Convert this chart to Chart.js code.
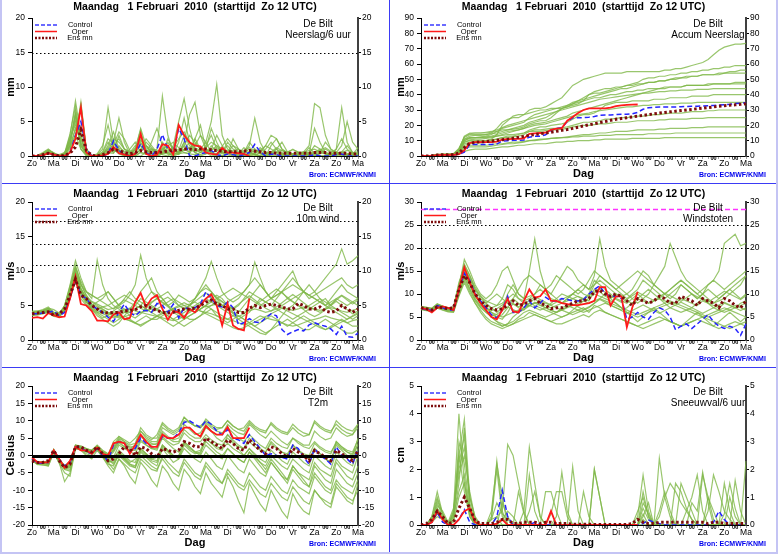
<!DOCTYPE html>
<html>
<head>
<meta charset="utf-8">
<script src="https://cdn.jsdelivr.net/npm/chart.js@4.4.0/dist/chart.umd.min.js"></script>
<style>
body { margin: 0; background: #fff; }
#wrap { position: relative; width: 778px; height: 554px; overflow: hidden; background: #fff; }
canvas { position: absolute; }
.sep { position: absolute; background: #3b3bf5; }
.frame { position: absolute; background: #c4c4f4; }
</style>
</head>
<body>
<div id="wrap">
  <canvas id="rain"  width="389" height="183" style="left:0;top:0"></canvas>
  <canvas id="accum" width="388" height="183" style="left:390px;top:0"></canvas>
  <canvas id="wind"  width="389" height="183" style="left:0;top:184px"></canvas>
  <canvas id="gust"  width="388" height="183" style="left:390px;top:184px"></canvas>
  <canvas id="temp"  width="389" height="186" style="left:0;top:368px"></canvas>
  <canvas id="snow"  width="388" height="186" style="left:390px;top:368px"></canvas>
  <div class="sep" style="left:0;top:183px;width:778px;height:1px"></div>
  <div class="sep" style="left:0;top:367px;width:778px;height:1px"></div>
  <div class="sep" style="left:389px;top:0;width:1px;height:554px"></div>
  <div class="frame" style="left:0;top:0;width:2px;height:554px"></div>
  <div class="frame" style="left:776px;top:0;width:2px;height:554px"></div>
  <div class="frame" style="left:0;top:552px;width:778px;height:2px"></div>
</div>
<script>
// x-as: elke 6 uur vanaf Zo 12 UTC, dagnamen op 12 UTC, "00" op 00 UTC
const dayLabels = ['Zo','Ma','Di','Wo','Do','Vr','Za','Zo','Ma','Di','Wo','Do','Vr','Za','Zo','Ma'];
const titleText = 'Maandag   1 Februari  2010  (starttijd  Zo 12 UTC)';
const legendNames = ['Control', 'Oper', 'Ens mn'];

// Neerslag/6 uur (mm)
const rainControl = [0,0,.1,.4, .2,0,0,.5, 3,5,1,0, 0,0,.3,2.2, .8,.2,0,.3, 1.8,.5,0,1, 3.1,1,.5,4, 2.5,0,0,.3, .5,.8,.2,0, .3,.2,0,.2, .5,1.7,.6,0, .3,.2,0,0, 0,0,0,0, .2,0,0,0, .2,.3,0,0, 0];
const rainOper = [0,0,.1,.4, .2,0,0,.5, 2.5,7,.5,0, 0,.1,.3,1.3, .4,.2,0,.3, 3.2,.3,0,.2, 1.7,1.5,.2,4.5, 3,2,1.5,1.4, .5,.3,.2,1.2, .5,.5,.4,.3, 0];
const rainMean = [0,0,.2,.4, .2,0,.1,.4, 1.3,3.8,.8,.1, 0,.2,.5,1, .8,.5,.3,.5, .8,.6,.5,.5, .6,.7,.8,.9, 1,1,.9,1, 1,.9,.8,.7, .6,.6,.6,.7, .8,.7,.6,.5, .5,.4,.4,.4, .4,.4,.4,.4, .5,.5,.5,.4, .4,.4,.4,.3, .3];
const rainMembers = [
  [0,0,.2,.6, .3,0,0,1.5, 6.5,2,.3,0, 0,.2,1.5,3.5, 1,.2,0,.5, 2.5,1,0,.3, 1.2,.5,0,.8, 3,1.5,.5,0, .3,1.5,.6,0, 0,.2,.5,0, .3,1,.4,0, 0,0,.2,.5, 0,0,.3,1.2, .4,0,0,.2, .6,.3,0,0, .2],
  [0,.1,.5,1, .4,0,.2,3, 8,3,.5,0, .2,1,7,2, .5,0,.3,1, 4,1.5,.5,0, .8,2,1,.5, 1,.5,2.5,1, .5,0,.2,.6, 1.5,.5,0,0, 0,.3,1.2,.5, 0,0,0,.3, 0,.2,.6,1.5, 7.6,7,3,1, .5,0,0,.4, 0],
  [0,0,.3,.5, .2,0,.5,1.5, 3,7.5,1,0, .1,.3,1,2, 5.5,2,.3,0, .6,1.5,.5,1, 8.7,3,.5,.2, 1,2,1,.5, 1.5,3,1,.3, .5,1.5,1,.3, .1,.2,0,0, 1.5,2.5,1,.3, 0,0,0,0, .5,1,.3,0, 0,.6,1.5,.5, .2],
  [0,0,.1,.4, .3,.1,.3,2.5, 5,1.5,.2,0, 0,.5,2,1, .8,.3,0,1, 3.8,.5,0,0, .3,.5,1.5,5, 8.3,4,1,.5, .3,1,3,1.5, .5,0,0,.5, 1.5,5.5,2,.5, .5,1,.5,0, 0,0,0,.2, .3,.5,.3,0, .5,1.5,5,2, 1],
  [0,0,.2,.8, .5,0,0,1, 4,2.5,.5,0, 0,0,.5,1.5, 2.5,1,.5,.2, 1,2.5,1.5,.5, .2,0,.5,1, .5,.3,1.5,3, 2,5,10.4,3, 1,.5,.3,0, .5,.3,0,1, 2,1,0,0, .2,.5,.3,0, 0,.5,2,1, .3,0,0,0, .5],
  [0,0,.3,.7, .2,0,.2,1.5, 4,7,1,0, 0,.2,.5,.4, 1.5,.5,0,0, .5,.3,2,4, 1.5,.5,.3,2, 5.5,2,.5,1, 2,.5,0,0, .3,2.5,1,.3, 0,0,.5,1.5, 3,2.5,1,.5, 0,0,0,.3, 1.5,1,.4,0, 1,7,2,.5, 0],
  [0,0,.1,.3, .3,.2,.5,2, 6,1,.2,0, .3,1.5,4.5,1, .3,0,1,2, .5,.3,0,.5, 1,.3,0,.3, 2,6,7.8,3, 1,.5,.3,.5, 2,1,.5,0, .5,.2,0,0, .3,1,2,.6, .3,0,0,0, 0,.3,1,.5, 0,0,.3,0, 0],
  [0,0,.4,.9, .4,0,0,.5, 3,1,0,0, 0,0,.3,.8, .5,.2,.5,1.5, 2,.8,.5,0, .3,2.5,1,.3, .5,.3,.2,.5, 1,4,2,.5, .5,0,.2,.5, 1,.5,.3,.2, 0,0,0,.5, 1,.5,.3,.2, 0,0,0,.4, 1,2.5,1,.3, 0],
  [0,0,.2,.5, .2,0,.3,1.2, 2.5,7.8,1,0, 0,.3,1,.5, 3,1,.5,0, 0,.5,1,.2, 2,1,.5,.3, 1.5,.5,2.5,4.5, 1,.5,.2,0, .5,.5,0,.5, 2,1,.4,0, .5,.3,.2,0, 0,.3,.5,.5, .3,0,0,0, .3,.5,.2,.2, 1.2],
  [0,0,.2,.4, .3,0,0,1.8, 5.5,1.5,.3,0, 0,.2,.6,1.2, .8,.3,.2,.5, 1.5,.5,.2,.3, .5,.3,.2,.5, 2,1,.5,.2, .5,.8,1.5,.5, .3,.2,.3,1.2, .5,.2,0,0, .2,.5,.3,.2, 0,0,.2,.4, 4,2,.5,.2, 0,0,.2,.3, .2],
  [0,0,.3,.8, .4,0,.1,2.2, 6,2.5,.4,0, 0,.4,1.2,2.5, 2,1,.6,.8, 1.8,1.2,.8,.6, 1,1.5,2,1.2, .8,1.2,1.8,1, .6,.9,1.2,.8, .5,.8,1,.6, .4,.7,.9,.5, .3,.6,.8,.5, .3,.5,.6,.4, .6,.8,.5,.3, .4,.6,.4,.3, .4],
  [0,0,.2,.5, .3,0,.2,2.6, 4.5,4,.6,0, .1,.6,2.5,1.8, 1.2,.7,.4,1.2, 2.2,1.5,1,.8, .5,.8,1.2,2.5, 3.5,2,1.2,.8, 1.2,2,1.5,1, .8,.6,.4,.8, 1.2,.8,.5,.3, .6,1.2,.8,.4, .2,.3,.5,.8, 1,.6,.3,.2, .3,.5,.8,.5, .3],
  [0,0,.3,.6, .2,0,.4,3.2, 7.2,1.8,.2,0, 0,.3,.9,1.6, 3.5,2.5,.8,.3, .9,2,1.2,.4, .6,1.2,.8,.6, 1.5,3,2,1, .8,.5,.7,1.4, 2.5,1.5,.6,.3, .2,.4,.8,1.5, 1,.5,.3,.6, .9,.6,.4,.2, .3,.8,1.2,.7, .5,.3,.2,.5, .6]
];

// Accum neerslag (mm)
const accumControl = [0,0,.1,.5, .7,.7,.7,1.2, 2.5,7.5,7.5,7.5, 7.5,7.5,7.8,9.8, 10,10.2,10.2,10.5, 12.3,12.8,12.8,13.8, 16.9,17.9,18.4,22.4, 24.9,24.9,25,25.3, 25.8,26.6,26.8,26.8, 27.1,27.3,27.3,27.5, 28.5,30.5,31.5,31.8, 32,32,32,32, 32.2,32.3,32.4,32.5, 32.6,32.8,33,33.2, 33.5,33.8,34.2,34.5, 34.8];
const accumOper = [0,0,.1,.5, .7,.7,.7,1.2, 3.7,8.5,9,9, 9,9.1,9.4,10.7, 11,11.2,11.2,11.5, 14.5,14.8,15,15.2, 17,17.8,18.2,23, 25.5,28,30,31, 31,31,31,31.5, 32.5,33,33.3,33.5, 33.6];
const accumMean = [0,0,.2,.6, .8,.8,.9,1.9, 5.5,8.3,9,9.2, 9.4,9.8,10.2,10.6, 11,11.6,12.2,12.8, 13.5,14,14.5,15, 15.5,16.1,16.7,17.3, 18,18.8,19.6,20.3, 21,21.8,22.5,23.3, 24,24.5,25,25.5, 26,26.5,27,27.5, 28,28.4,28.8,29.2, 29.6,30,30.4,30.8, 31.2,31.6,32,32.4, 32.8,33.1,33.4,33.7, 34];
const accumMembers = [
  [0,0,.2,.8, 1,1,1.5,5, 12,14,14,14, 14,15,18,22, 24,25,25,27, 30,31,31,32, 34,36,38,42, 46,48,50,51, 52,53,54,54, 54,54,55,55, 55,55,55,55, 55,56,56,57, 57,58,59,60, 61,63,66,69, 71,72,73,73, 73.5],
  [0,0,.3,.6, .8,1,1,3, 10,12,12,12.5, 13,14,16,18, 19,20,21,22, 25,27,28,29, 30,31,31,32, 33,34,36,40, 42,43,44,44, 45,45,46,47, 48,50,51,51, 52,52,53,53, 54,54,55,55, 56,56,57,57, 58,58,59,59, 59],
  [0,0,.2,.5, .7,.7,1,2.5, 8,9,9.5,9.5, 10,11,14,20, 23,26,27,27, 28,29,30,30, 31,31,32,33, 34,36,38,40, 41,41,42,43, 44,45,46,46, 47,47,48,48, 49,49,50,51, 51,52,52,52, 53,53,53,53, 54,54,54,54, 54],
  [0,0,.3,1, 1.2,1.2,1.5,4, 13,15,15,15, 15,15.5,16,17, 17,17.5,18,19, 21,22,23,23, 25,28,31,32, 34,35,36,37, 38,38,39,40, 40,41,42,42, 43,43,44,44, 44,45,45,45, 45,46,46,46, 46,46,47,47, 47,47,47,47, 47],
  [0,0,.2,.4, .5,.5,.6,2, 7,8,8.5,8.5, 9,10,11,12, 13,13,14,15, 17,18,19,19, 20,20.5,21,22, 24,26,27,27, 28,30,33,34, 35,35,35,36, 36,36,36,37, 37,37,38,38, 38,38,39,39, 39,39,40,40, 40,40,40,40, 40],
  [0,0,.4,1, 1,1,1.5,3, 9,10,10,10, 10,10.5,11,12, 12,12.5,13,14, 16,17,17,17.5, 18,18,18.5,19, 20,21,22,22, 22.5,23,24,24, 24.5,25,25,25.5, 26,26,26.5,27, 27,27.5,28,28, 28,28.5,29,29, 29,29.5,29.5,30, 30,30,30,30, 30],
  [0,0,.2,.6, .8,.8,1,3.5, 11,12,12,12, 12,12.5,13,13.5, 14,14,14.5,15, 16,16,16,16.5, 17,17,17.5,18, 19,19.5,20,20, 20.5,21,21,21.5, 22,22,22,22.5, 23,23,23,23, 23.5,23.5,24,24, 24,24,24.5,24.5, 24.5,25,25,25, 25,25,25,25, 25],
  [0,0,.1,.3, .4,.4,.5,1.5, 5,6,6,6, 6,6.5,7,7.5, 8,8,8.5,9, 10,10,10.5,11, 11.5,12,12,12.5, 13,13.5,14,14, 14.5,15,15,15.5, 16,16,16,16.5, 17,17,17,17, 17.5,17.5,18,18, 18,18,18.5,18.5, 18.5,19,19,19, 19,19,19,19, 19],
  [0,0,.2,.5, .6,.6,.8,2, 6,7,7,7, 7,7.5,8,8, 8.5,9,9,9.5, 10,10.5,11,11, 11.5,11.5,12,12, 12.5,12.5,13,13, 13,13.5,13.5,13.5, 14,14,14,14, 14,14,14.5,14.5, 14.5,14.5,14.5,15, 15,15,15,15, 15,15,15,15, 15,15,15,15, 15],
  [0,0,.1,.2, .3,.3,.4,1, 3,4,4.5,4.5, 4.5,5,5.5,6, 6,6.5,7,7, 7.5,8,8,8, 8.5,9,9,9.5, 9.5,10,10,10, 10.5,10.5,11,11, 11,11,11,11.5, 11.5,11.5,11.5,11.5, 11.5,12,12,12, 12,12,12,12, 12,12,12,12, 12,12,12,12, 12],
  [0,0,.3,.7, .9,.9,1.2,4, 11,13,13.5,13.5, 14,14.5,15,16, 17,18,19,20, 22,23,24,25, 27,29,31,33, 35,36,37,38, 39,40,41,42, 43,44,44,45, 46,47,48,48, 49,49,50,50, 51,51,52,52, 53,53,53,54, 54,55,55,56, 56],
  [0,0,.1,.4, .6,.6,.8,2.5, 9,10.5,11,11, 11.5,12,13,14, 15,16,17,18, 20,21,21.5,22, 23,24,25,26, 28,29,30,31, 32,33,34,35, 36,37,38,39, 40,41,42,43, 44,44,45,45, 45,46,46,46, 46,47,47,47, 47,47,48,48, 48],
  [0,0,.2,.6, .8,.8,1,3, 10,11.5,12,12, 12.5,13,14,15, 16,16.5,17,18, 19,20,20.5,21, 22,23,24,25, 26,27,27.5,28, 29,29.5,30,30.5, 31,31.5,32,32, 32.5,33,33,33.5, 33.5,34,34,34, 34.5,34.5,34.5,35, 35,35,35,35, 35,35,35,35, 35],
  [0,0,.3,.8, 1,1,1.3,4.5, 12.5,14.5,15,15, 15.5,16,17,18.5, 20,21,22,23, 24,25,26,27, 28,29,30,31, 32,33,34,35, 36,37,37.5,38, 38.5,39,39.5,40, 40.5,41,41,41.5, 42,42,42.5,42.5, 43,43,43,43.5, 43.5,43.5,44,44, 44,44,44,44, 44]
];

// 10m wind (m/s)
const windControl = [3.8,3.8,3.9,4, 4.2,3.5,4,6, 8.8,6.5,6,5, 4.5,4,3.3,2.7, 4,5.2,4,3.5, 4.2,4.3,4,5.3, 5,4,5.2,3.2, 4.7,4.5,4.7,5.2, 7,6,5,4.8, 5.5,4.7,2.2,2.5, 3.1,2.6,2.5,3.2, 3.8,3.5,1.5,0.8, 1.2,1.5,1.3,2.2, 2.5,2.2,2,1.6, 0.8,2,0.5,0.4, 1];
const windOper = [3.2,3.3,3.1,3.9, 3.6,3.3,3.4,6, 9.2,5.2,5,4.2, 2.8,2.8,2.7,3.7, 4,3,3.2,5.5, 6.8,4.8,6,6.5, 4.5,2.9,4.2,4, 3.2,4.5,4,5, 6,6.6,5,2.1, 5.3,2.1,1.6,1.4, 6];
const windMean = [3.8,3.9,4,4.1, 3.6,3.8,4.5,6.5, 8.8,6.5,6,5, 4.5,4,3.9,4, 4,4.2,4.3,4.4, 4.8,5,4.6,4.3, 4,3.9,4,4.3, 4.5,4.5,4.6,5, 5.5,5.8,5.2,5, 4.5,4.5,4,4, 4.6,5,4.7,5, 5.2,5,4.8,4.5, 4.5,5.3,5,4.5, 4.5,4.8,4.2,4, 4.2,5,4.5,4, 4.5];
const windMembers = [
  [4,4,4.2,4.5, 3.8,3.5,4.5,7, 10.5,8,6.5,5.5, 5,4.5,4,3.5, 3.5,4,4.5,5, 6,5.5,5,4.5, 4,3.5,3,3.5, 4,4.5,5,5.5, 6,5.5,5,4.5, 4,3.5,3,3.5, 4,5,6,5.5, 5,4.5,4,3.5, 3,3.5,4,4.5, 5,5.5,6,5, 4.5,4,3.5,3, 3.5],
  [3.5,3.8,4,4.3, 3.5,3.4,5,8, 11.5,9,7,6, 11.6,8,6,5, 4.5,4,4,4.5, 5,6,7,6.5, 6,5,4.5,4, 4.5,5,6,7, 8,7,6,5, 5.5,6,6.5,7, 8,9,8,7, 6,5.5,5,5.5, 6,6.5,7,6.5, 6,5.5,5,6, 7,8,7,6.5, 6],
  [4,4,3.8,4.2, 3.6,3.6,4.2,6.5, 9.5,7.5,6,5, 4,3.5,3,2.5, 3,3.5,3,2.5, 3,3.5,3,3, 3.5,4,4.5,4, 3.5,3,3,3.5, 4,4.5,3.5,3, 2.5,3,3.5,3, 2.5,2,2.5,3, 3.5,3,2.5,2, 2.5,3,3.5,3, 2.5,2,1.5,2, 2.5,3,2.5,2, 2],
  [3.8,3.9,4.1,4.4, 3.7,3.5,4.8,7.5, 10,7,5.5,5, 5.5,6,7,6, 5,5.5,6.5,8, 12.3,9,7,6, 5.5,5,5.5,6.5, 6,5.5,6,7, 7.5,7,6,5.5, 5,4.5,5,6, 7,6.5,6,5.5, 5,6,7,6, 5.5,5,4.5,5, 5.5,6,5.5,5, 6,6.5,6,5.5, 5],
  [3.6,3.7,3.9,4, 3.4,3.3,4.3,6, 8.5,6,5,4.5, 4,3.8,3.5,3.2, 3.5,3,2.8,2.5, 2,2.5,3,3.5, 4,3.5,3,2.5, 2,2.5,3,3.5, 4.5,5,5.5,5, 4.5,4,3.5,3, 2.5,2,1.5,1, 1.5,2,2.5,3, 2.5,2,1.5,1.5, 2,2.5,3,2.5, 2,1.5,1,1, 1.5],
  [4.2,4.2,4.4,4.8, 4,3.8,5,7.5, 10.5,8.5,7,6.5, 6,5.5,5,4.5, 5,6,7,6, 5.5,5,5.5,6, 6.5,7,6,5, 4.5,5,6,7.5, 9,11.4,9,7, 6,5.5,6,7, 8,11.3,9,7, 6,6.5,7,8, 9,8,7,6.5, 7,8,9,10, 11,13.2,11,11.5, 12.2],
  [3.8,3.8,4,4.1, 3.6,3.7,4.4,6.8, 9,6.5,5.2,4.6, 4.2,4,3.8,4, 4.2,4.4,4.6,4.2, 4,4.2,4.5,4.3, 4,4.2,4.5,4.8, 5,5.2,5.5,5, 4.8,5,5.2,5, 4.8,4.5,4.2,4, 4.2,4.5,4.3,4, 4.2,4.5,4.8,4.5, 4.3,4.5,4.8,4.6, 4.5,4.3,4.5,4.7, 4.5,4.2,4,4.3, 4.5],
  [3.7,3.8,4,4.3, 3.8,3.6,4.6,7.2, 9.8,7.5,6,4.5, 3.5,3,2.5,2, 2.5,3.5,4.5,5.5, 7,8,9,7, 6,5,4,3.5, 3,3.5,4,4.5, 5,6,6.5,6, 5,4,3,2.5, 2,1.5,1,0.8, 1.5,2.5,3.5,4.5, 5,6,7,8, 7,6,5,4.5, 4,3.5,3,3.5, 4],
  [4,4.1,4.3,4.6, 3.9,3.7,4.7,7, 10,8,7,6.5, 6,6.5,7,6, 5,4.5,4,4.5, 5,4.5,4,4.5, 5,5.5,6,5.5, 5,4.5,4,4.5, 5,4.5,4,3.5, 3,3.5,4,5, 6,7,8,7, 6,7,8,9, 10,8,7,6, 6.5,7,7.5,8, 8.5,9,8,7.5, 8],
  [3.9,4,4.1,4.2, 3.5,3.5,4.5,6.5, 9.2,7,5.8,5, 4.5,4.2,3.8,3.5, 3.2,3.4,3.6,3.8, 4,3.8,3.6,3.4, 3.2,3,2.8,3, 3.5,4,4.5,4.2, 4,3.8,3.5,3.2, 3,2.8,2.5,2.2, 2.5,3,3.5,3.2, 3,2.8,2.5,2.2, 2,2.2,2.5,2.8, 3,3.2,3.5,3.2, 3,2.8,2.5,2.8, 3],
  [3.6,3.6,3.8,4, 3.5,3.4,4.2,6.2, 8.8,6.8,5.5,4.8, 4.5,4.8,5,5.5, 6,6.5,6,5.5, 5,4.5,4,3.5, 3,2.5,2,2.5, 3,3.5,4,4.5, 5,5.5,6,6.5, 7,7.5,7,6.5, 6,5.5,5,5.5, 6,6.5,7,7.5, 8,7.5,7,6.5, 6,5.5,5,5.5, 6,5.5,5,5.5, 6],
  [4.1,4.2,4.3,4.5, 4,3.9,4.9,7.8, 10.8,8.2,6.4,5.2, 4.8,4.4,4,3.8, 3.6,3.2,2.8,2.4, 2.2,2.6,3,3.4, 3.8,4.2,4.6,5, 5.4,5,4.6,4.2, 3.8,3.4,3,2.6, 2.2,1.8,1.5,1.8, 2.2,2.6,3,3.4, 3.8,4.2,4.6,4.2, 3.8,3.4,3,2.6, 2.2,1.8,1.5,1.8, 2.2,2.6,3,3.4, 3.8],
  [3.9,4,4.2,4.6, 4.4,3.9,4.6,7.1, 9.6,7.2,6.2,5.6, 5.2,4.8,4.4,4.6, 5.2,5.8,5.4,5, 4.6,4.2,4.6,5.2, 5.8,6.2,5.6,5, 4.6,4.2,4.6,5.2, 6,6.8,6.2,5.6, 5,4.6,5.2,5.8, 6.4,5.8,5.2,4.6, 4.2,4.8,5.4,6, 6.6,6,5.4,4.8, 4.4,4,4.6,5.2, 5.8,6.4,5.8,5.2, 5.8],
  [3.7,3.7,3.9,4.2, 3.9,3.6,4.4,6.6, 9.4,7.4,5.6,4.4, 3.8,3.2,3.6,4.2, 4.8,4.2,3.6,3.2, 3.8,4.6,5.4,6, 5.4,4.8,4.2,3.8, 4.4,5,5.6,6.2, 6.8,6.2,5.6,5, 4.4,3.8,3.4,3.8, 4.4,5,5.6,6.2, 6.8,7.4,6.8,6.2, 5.6,5,4.4,3.8, 3.4,3.8,4.4,5, 5.6,5,4.4,3.8, 4.2]
];

// Windstoten (m/s)
const gustControl = [7,6.5,6.5,7.5, 7,6.5,6.5,11, 14.5,13,10,8.5, 7,5.5,4.8,6.5, 9.5,6,6,7, 8.5,7,8,9.3, 8.5,8.5,9,8.8, 8.5,8.5,8.8,10, 11,11.8,10,9.5, 9.5,9,4.5,5, 6,5,4.5,6, 7,6.5,5,2.2, 3,3.5,2.5,3.5, 4.5,5.5,4,3, 2.5,3,2.5,1, 3.5];
const gustOper = [7,6.7,6,7, 7.3,7,6.5,11, 15.8,12.5,9.8,8, 6.5,5,4.5,6.5, 9,6.2,6,8.5, 11,9.2,9.5,11, 8.5,8.5,8,7.8, 7.6,7.6,7.8,8, 8.5,11.5,11.5,7.5, 9.5,9.5,2.8,7, 10.5];
const gustMean = [7,6.8,6.5,7.2, 7,6.8,7,11, 14,12.5,10,8.5, 7.5,6.8,6.5,6.8, 7.5,8.5,7.5,7.8, 8.5,9,8,7.5, 6.8,7,7,7.5, 8,8.5,8.5,9, 10.5,10.8,10,9.5, 10,9.5,8.5,7.5, 9,8.5,8,8.5, 9.5,9,8,8, 9.5,9,8.5,7.5, 9,8.5,8,7, 9,8.5,7.5,7, 8.5];
const gustMembers = [
  [7,6.8,6.5,7.5, 7,6.5,6.5,11, 15,13,10,8, 7,6,5,4.5, 6,8,7,6.5, 8,9,8,7.5, 7,7.5,8,8.5, 9,9.5,9,8.5, 11,10.5,9.5,9, 10,9.5,8.5,8, 9,8.5,8,8.5, 9,8.5,8,8, 9,8.5,8,7.5, 8.5,8,7.5,7, 8,7.5,7,7.5, 8],
  [7.2,7,6.8,7.8, 7.3,7,7,12, 16.5,14,11,9, 8,7,6,7, 10,12,10,9, 15,22,15,11, 10,9,8,9, 10,11,12,11, 12,14,13,12, 11,10,9,10, 11,13,12,11, 10,9,10,11, 12,11,10,9, 10,11,10,9, 10,11,10,9, 10],
  [6.8,6.6,6.3,7.2, 6.8,6.3,6.2,10, 13.5,11,8.5,7, 6,5,4,3.5, 3,3.5,4.5,5, 6,5.5,5,4.5, 4,4.5,5,5.5, 6,6.5,7,6, 7.5,7,6,5.5, 5,4.5,4,3.5, 3,3.5,4,4.5, 5,4.5,4,3.5, 3,3.5,4,4.5, 5,4.5,4,3.5, 3,2.5,3,3.5, 4],
  [7.1,6.9,6.7,7.6, 7.1,6.8,6.9,11.5, 17.5,15,12,10, 9,10,12,15, 16,13,10,9, 9.5,10,11,10, 9,8.5,8,9, 10,11,10,9.5, 12,13,12,11, 10,9.5,10,11, 13,15,14,12, 11,10,9,10, 12,11,10,9, 10,12,13,15, 21,22,23,20.5, 21],
  [6.9,6.7,6.4,7.3, 6.9,6.5,6.6,10.5, 14,12,9,7.5, 6.5,5.5,5,5.5, 7,9,8,7, 8,7.5,7,6.5, 6,5.5,5,5.5, 6.5,7.5,8.5,9, 10,9.5,9,8.5, 8,7,6,5.5, 5,5.5,6,6.5, 7,7.5,8,7.5, 7,6.5,6,5.5, 5,5.5,6,6.5, 7,6.5,6,5.5, 5],
  [7,6.8,6.6,7.4, 7,6.6,6.7,11, 15.5,13.5,11,9.5, 8.5,8,7.5,8, 9,10,9,8.5, 9,10,12,11, 10,12,14,16, 15,13,12,11, 14,22,16,13, 12,11,10,9, 8,9,10,12, 14,16,21,18, 15,13,12,11, 10,9,8,9, 10,11,12,13, 14],
  [7.3,7.1,6.9,7.9, 7.4,7,7.2,12.5, 16,13,10,8, 6.5,5,4,3, 3.5,5,6,7, 7.5,8,8.5,8, 7.5,7,6.5,6, 5.5,6,6.5,7, 8,9,10,9, 8,7,6,5, 4,5,6,7, 6,5,4,3.5, 3,4,5,6, 5,4,3,4, 5,6,5,4, 5],
  [6.7,6.5,6.2,7, 6.6,6.2,6.1,9.8, 13,10.5,8,6.5, 5,4,3.5,3, 3.5,4,5,6, 6.5,6,5.5,5, 5.5,6,7,7.5, 7,6.5,6,6.5, 7,7.5,8,7.5, 7,6.5,7,8, 9,10,11,10, 9,8,7,6.5, 6,6.5,7,8, 9,8,7,6.5, 6,6.5,7,8, 8.5],
  [7,6.9,6.7,7.5, 7.2,6.9,6.8,11.2, 15,12.5,10,8.5, 7.5,7,7.5,9, 12,11,9,8, 7.5,7,6.5,7, 8,9,10,9.5, 9,8.5,9,10, 13,12,11,10, 9,8.5,8,9, 10,9,8,8.5, 9,10,11,12, 13,12,11,10, 9,8.5,8,8.5, 9,10,11,12, 14],
  [7.1,7,6.8,7.7, 7.2,6.7,6.8,11.3, 14.5,12,9.5,8, 7,6,5.5,5, 5.5,6,6.5,7, 7.5,8,7.5,7, 6.5,6,6.5,7, 7.5,8,8.5,8, 8.5,9,8.5,8, 7.5,7,6.5,6, 5.5,6,6.5,7, 7.5,8,8.5,8, 7.5,7,6.5,6, 5.5,5,5.5,6, 6.5,7,7.5,7, 6.5],
  [6.6,6.4,6.2,6.9, 6.5,6.1,6,9.5, 12.5,10,8,6, 4.5,3.5,3,2.5, 3,3.5,4,4.5, 5,5.5,5,4.5, 4,3.5,3.5,4, 4.5,5,5.5,5, 6,6.5,6,5.5, 5,4.5,4,3.5, 3,2.5,3,3.5, 4,4.5,4,3.5, 3,3.5,4,4.5, 4,3.5,3,2.5, 3,3.5,4,3.5, 3],
  [7.2,7.1,6.9,7.7, 7.3,6.9,7,11.8, 16.2,14,11.5,9.5, 8,9,10,9, 8,9,11,13, 14,13,12,11, 12,14,13,12, 11,10,11,13, 15,14,13,12, 11,12,13,14, 15,14,13,12, 11,10,11,12, 13,12,11,10, 11,12,13,12, 11,12,13,14, 15],
  [7,6.8,6.5,7.4, 7.1,6.7,6.8,10.8, 14.8,12.2,9.6,8, 7,6.4,6.8,7.6, 8.4,7.8,7.2,7.8, 8.6,9.4,8.8,8.2, 7.6,8.2,8.8,9.4, 10,9.4,8.8,9.6, 10.4,11.2,10.4,9.6, 8.8,8.2,8.8,9.6, 10.4,9.8,9.2,8.6, 9.4,10.2,9.6,9, 8.4,9.2,10,9.4, 8.8,8.2,9,9.8, 10.6,10,9.4,8.8, 9.6],
  [6.9,6.7,6.4,7.2, 6.8,6.4,6.4,10.2, 13.8,11.2,8.8,7.2, 6,5.2,5.6,6.4, 7.2,6.6,6,6.6, 7.4,8.2,7.6,7, 6.4,6,6.6,7.2, 7.8,7.2,6.6,7.2, 8,8.8,8.2,7.6, 7,6.4,5.8,6.4, 7,7.6,7,6.4, 5.8,6.4,7,7.6, 8.2,7.6,7,6.4, 5.8,6.4,7,7.6, 8.2,7.6,7,6.4, 7]
];

// T2m (Celsius)
const tempControl = [-1,-2.2,-2.2,-2, 1.5,-1,-3,-2, 2.5,2.5,1,0.5, 2,0,-1.5,3, 4,3.5,1,2, 5,3.5,2.5,2.5, 5.5,5,5,6.5, 9.5,10,9,8, 10,9,7,6, 7.5,5,4.5,3.5, 6,4,2,0, 0.5,0,-0.5,-1, 3,2,-0.5,-2.5, 2,0,-1,-2.5, 2.5,0,-1,-2.5, 2];
const tempOper = [-0.5,-2,-2,-2, 1.5,-1,-3.5,-1.5, 2.5,1.5,1.5,0.5, 2.3,0.5,0,3.5, 4,3.5,0.5,3, 6,4,2.5,2.5, 6,5,5,6, 8,8,6.5,5.5, 8.5,7,6,6, 8.2,5,5,5, 8];
const tempMean = [-1.5,-2,-2,-1.5, 1.5,-1.5,-3.5,-2.5, 2.5,2.5,1.5,1, 2.5,0.5,-1.5,-1, 0.5,2.5,2,0, 2.5,2,0.5,-0.5, 2,1.5,1,1.5, 4,3.5,2.5,2.5, 5,4,3,2, 4.5,3.5,2,1.5, 4.5,3,1.5,0.5, 2.5,2,0.5,-0.5, 2,1,0,-1.5, 1.5,0.5,-0.5,-1.5, 1.5,0.5,-0.5,-1.5, 1.5];
const tempMembers = [
  [-1,-2,-2,-2, 1.5,-1,-3,-1.5, 3,2.5,1.5,1, 2.5,1,0,1.5, 5,4,2,3, 7,5,4,4, 8,7,6,7, 10,9.5,8.5,8, 10.5,9,8,8, 10,8.5,7.5,7, 9.5,8,7,6.5, 9.5,8,7,6.5, 9,7.5,6.5,6, 9.5,8,7,6.5, 10,8.5,7.5,7, 9],
  [-1.5,-2.5,-2.8,-3, 1,-2,-7.5,-5, 2,1.5,0,-1, 1.5,-0.5,-3,-5, -1,-3,-6,-8, -2,-4,-7,-9, -3,-5,-8,-10, -4,-6,-9,-11, -5,-8,-10,-12, -6,-9,-13,-16.5, -8,-11,-14,-16, -10,-13,-16,-18, -11,-14,-16,-17, -10,-12,-14,-15, -9,-11,-13,-14, -8],
  [-1,-2,-2.2,-2, 1.5,-1.5,-3.5,-3, 2.5,2,1.5,1, 2.5,0.5,-1,-0.5, 3,2,1,0.5, 4,3,2,1.5, 5,3.5,2,1, 4,2.5,1,0, 3,1.5,0,-1, 2,0.5,-1,-2, 1,-0.5,-2,-3, 0,-1.5,-3,-4, -1,-2.5,-4,-5, 0,-1.5,-3,-4, 1,-0.5,-2,-3, 2],
  [-1.2,-2.2,-2.2,-2, 1.4,-1.2,-3.2,-2.2, 2.8,2.5,2,1.5, 3,1.5,0.5,2.5, 5.5,4,3,3.5, 8,6,5,5, 9,7.5,6.5,7.5, 11,9.5,8.5,8, 9.5,8,7,6.5, 8,6.5,5,4, 6,4.5,3,2, 5,3.5,2.5,2, 5,4,3,3, 7,5.5,4.5,5, 8,6.5,5.5,6, 9],
  [-0.8,-1.8,-1.8,-1.6, 1.8,-1,-3,-2.2, 3,2.8,2,1.5, 2.8,0.5,-1.5,-2, 0.5,-1,-2.5,-3, 1,-0.5,-2,-3, 2,0,-2,-1, 3,1.5,0.5,1, 4,2.5,1,0, 2,0.5,-1,-2, 1,-1,-3,-5, -2,-4,-6,-8, -4,-6,-8,-9, -3,-5,-7,-8, -2,-4,-6,-7, -3],
  [-1.3,-2.4,-2.3,-2.5, 1.2,-1.8,-4,-4.5, 2.2,1.8,1,0.5, 2,0,-2,-4, -1,-2.5,-4,-5, -1,-2.5,-4,-4.5, 0,-2,-3.5,-5, -1,-3,-5,-6, -2,-4,-6,-8, -4,-6,-8,-9, -5,-7,-9,-10, -6,-8,-10,-11, -7,-9,-10,-11, -6,-8,-10,-11, -7,-9,-10,-11, -7],
  [-1,-2.1,-2,-1.8, 1.6,-1.4,-3.4,-2.8, 2.6,2.2,1.5,1.2, 2.6,1.2,0.5,2, 4.5,3.5,2.5,2.5, 6,4.5,3.5,3, 6.5,5,4,4, 7.5,6,5,5, 8,7,6,6, 9,7.5,6.5,6, 9,7.5,6,5, 7,5.5,4,3, 5,3.5,2.5,2, 4,2.5,1.5,1, 3.5,2,1,0.5, 3],
  [-1.1,-2.3,-2.1,-2.2, 1.3,-1.6,-3.6,-3.5, 2.4,2,1.2,0.8, 2.2,0.2,-1.5,-1, 1.5,0,-1.5,-2, 2,0.5,-1,-1.5, 3,1.5,0,-0.5, 4,2.5,1,0.5, 5,3.5,2,1.5, 6,4.5,3,2, 5,3.5,2,1, 4,2.5,1,0, 3,1.5,0,-1, 2,0.5,-1,-2, 4,2.5,1,0, 5],
  [-0.9,-1.9,-1.9,-1.8, 1.7,-1.1,-3.1,-2, 2.9,2.6,1.8,1.4, 2.7,1,0,1.5, 4,2.5,1.5,2, 5.5,4,3,3.5, 7,5.5,4.5,5, 9,7.5,6,6.5, 9,7,5,4, 6,4,2,0, 2,0,-2,-4, -1,-3,-5,-7, -3,-5,-7,-9, -5,-7,-9,-10, -4,-6,-8,-9, -5],
  [-1.4,-2.6,-2.6,-3, 0.8,-2.2,-5,-6, 2,1.6,0.5,0, 1.8,-0.5,-2.5,-3, 0.5,-1,-2.5,-3.5, 0,-1.5,-3,-4, -1,-3,-5,-6, -2,-4,-6,-7, -3,-5,-7,-8, -5,-7,-9,-10, -7,-9,-11,-12, -8,-10,-12,-13, -9,-11,-13,-14, -10,-12,-13,-14, -8,-10,-12,-13, -10],
  [-1,-2,-2.1,-2, 1.5,-1.3,-3.3,-2.6, 2.7,2.3,1.7,1.3, 2.4,1,0.2,4, 5.5,4.5,3.5,5, 7,5.5,4.5,6, 9.5,8,7,8, 11,9.5,8.5,8.5, 10,8.5,7.5,8, 10,8.5,7.5,8, 10,8.5,7.5,7, 9,7.5,6.5,6, 8,6.5,5.5,6, 10,8.5,7.5,7, 9,7.5,6.5,6, 8],
  [-1.2,-2.3,-2.4,-2.6, 1.1,-1.7,-3.8,-4, 2.3,1.9,1,0.6, 2.1,-0.2,-2,-1.5, 1,-0.5,-2,-1, 2,0.5,-1,-0.5, 3,1.5,0,-1, 2,0.5,-1,-2, 1,-1,-3,-4, 0,-2,-4,-5, -1,-3,-5,-6, -2,-4,-6,-7, -3,-5,-6,-7, -2,-4,-5,-6, -1,-3,-4,-5, 0],
  [-1.1,-2.1,-2.2,-2.3, 1.3,-1.4,-3.6,-3, 2.6,2.2,1.4,1, 2.4,0.8,-0.5,1, 3.5,2.5,1.5,1.5, 4.5,3,2,2, 5.5,4,3,3.5, 6.5,5,4,4, 6,4.5,3.5,3, 5,3.5,2.5,2, 4,2.5,1.5,1, 3.5,2,1,0.5, 3,1.5,0.5,0, 3.5,2,1,0.5, 4,2.5,1.5,1, 4.5],
  [-1.2,-2.2,-2.3,-2.4, 1.2,-1.6,-3.8,-3.4, 2.4,2,1.2,0.8, 2.2,0.4,-1,-2.5, 0,-1.5,-3,-3.5, 1.5,0,-1.5,-2, 2.5,1,-0.5,0, 3.5,2,1,1.5, 5,3.5,2.5,2, 3.5,2,1,0, 2,0.5,-1,-2, 1.5,0,-1.5,-2.5, 1,-0.5,-2,-3, 2,0.5,-1,-2, 3,1.5,0,-1, 3.5]
];

// Sneeuwval/6 uur (cm)
const snowControl = [0,0,.1,.45, .1,0,0,.2, .55,.1,0,0, 0,0,.3,1.25, .3,0,0,0, 0,.1,0,0, 0,0,0,0, 0,0,0,0, 0,0,0,0, 0,0,0,0, 0,.05,.18,.1, .05,0,0,0, 0,0,0,0, 0,0,.1,.5, .2,0,0,0, .05];
const snowOper = [0,0,.1,.5, .2,0,0,.2, .5,.6,.1,0, 0,0,.05,.2, 0,0,0,0, 0,0,0,0, .5,0,0,0, 0,0,0,0, 0,0,0,0, 0,0,0,0, 0];
const snowMean = [0,.05,.2,.5, .3,.05,.1,.6, 1,.6,.15,.05, .05,.05,.1,.2, .2,.05,.05,.1, .1,.1,.05,.1, .1,.05,.05,.05, .03,.03,.03,.03, .02,.02,.02,.02, .02,.02,.02,.05, .2,.1,.05,.05, .1,.1,.1,.1, .1,.1,.1,.1, .1,.05,.1,.1, .05,.05,.05,.05, .05];
const snowMembers = [
  [0,0,.3,1.2, .4,0,.5,4, 1.5,.3,0,0, 0,.5,2.2,1, 0,0,0,0, .5,1.2,.3,0, 0,0,0,0, 0,0,0,0, 0,0,0,0, 0,0,0,0, 0,0,0,0, .3,1,1.5,1.2, .8,.5,.2,0, 0,0,0,0, 0,0,0,0, 0],
  [0,0,.2,.8, .3,0,.3,2.5, 3.8,1,.2,0, 0,0,.3,.5, 2.9,2.5,1.5,.5, 0,0,0,0, 0,0,0,0, 0,0,0,0, 2,1,0,0, 0,0,0,0, 0,.3,.8,0, 2.4,1,.3,0, 0,0,0,0, 0,.5,1.8,1.2, .5,.2,0,0, 0],
  [0,0,.1,.6, .2,0,.2,3, 2.2,.5,0,0, 0,.2,.3,0, 0,0,0,.5, 2.8,1.5,.3,0, 0,.3,1.9,.5, 0,0,0,0, 0,0,0,0, 0,0,0,0, 0,0,0,0, 0,0,0,0, 1.5,1,.5,0, 0,0,0,0, 0,0,1.6,.5, 0],
  [0,0,.2,.7, .5,.1,.6,2.2, 3.2,.8,.1,0, 0,0,0,.2, .5,.3,0,0, 0,0,0,1.2, 1.2,.5,0,0, 2.1,.5,0,0, 0,0,0,0, 0,0,0,0, .3,1.8,.5,0, 0,0,0,0, 0,0,.8,.5, 1.9,.8,0,0, 0,0,0,0, 0],
  [0,0,.2,.9, .4,0,.4,1.8, 2.5,1.2,.2,0, 0,.3,2.3,.5, 0,0,1.2,.4, 0,0,0,0, 0,0,0,0, 0,0,0,0, 0,0,0,0, 0,0,0,0, 0,.8,.4,0, 0,0,0,0, 0,0,0,0, 0,0,0,0, .4,1.5,.6,0, 0],
  [0,0,.1,.4, .2,0,.3,1.2, 1.8,.4,0,0, 0,0,0,0, 0,0,0,0, 0,0,0,0, 0,0,0,0, 0,0,0,0, 2,1,0,0, 0,0,0,0, 0,.2,0,0, 0,0,0,0, 0,.5,1,1.8, .5,0,0,0, 0,0,0,0, 2.3],
  [0,0,.3,1, .4,0,.4,2.6, 1.2,.3,0,0, 0,.2,2,.3, 0,0,0,0, 1.8,.5,0,0, .4,1.2,1.2,.3, 0,0,0,0, 0,0,0,0, 0,0,0,0, .5,1,.3,0, 0,0,0,1.5, 1.2,.6,.2,0, 0,0,0,0, 1.5,.5,0,0, 0],
  [0,0,.2,.5, .2,0,.2,1.5, 3.5,.6,.1,0, 0,0,0,.8, .3,0,0,0, 0,0,0,0, 0,0,0,0, 0,0,0,0, 0,0,0,0, 0,0,0,0, 0,1.2,.3,0, 0,0,0,0, 0,0,0,0, 1.8,1,.2,0, 0,0,0,0, 0],
  [0,0,.1,.3, .2,0,.1,1, 1.5,.5,0,0, 0,0,0,0, 0,0,0,0, 0,0,0,0, 0,0,0,0, 0,0,0,0, 0,0,0,0, 0,0,0,0, 0,.6,.2,0, 0,0,0,0, 0,0,0,0, 0,0,0,0, 0,0,0,0, 0],
  [0,0,.2,.6, .3,0,.5,2, 2.8,1,.3,0, 0,.2,.8,.4, .2,0,0,0, 0,0,0,0, 0,0,0,0, 0,0,1.2,.3, 0,0,0,0, 0,0,0,0, 0,.4,0,0, .5,1.2,.5,0, 0,0,0,0, 0,1,.5,0, 0,1,.3,0, 0]
];

const F = '"Liberation Sans", Arial, Helvetica, sans-serif';
Chart.defaults.font.family = F;

// labels voor elke 6 uur
const xLabels = [];
for (let i = 0; i < 61; i++) {
  xLabels.push(i % 4 === 0 ? dayLabels[i / 4] : (i % 4 === 2 ? '00' : ''));
}

function decoPlugin(p) {
  return {
    id: 'deco',
    afterDatasetsDraw(chart) {
      const ctx = chart.ctx, a = chart.chartArea, y = chart.scales.y;
      ctx.save();
      (p.refLines || []).forEach(r => {
        const py = Math.round(y.getPixelForValue(r.v)) + 0.5;
        ctx.beginPath();
        ctx.strokeStyle = r.color || '#000';
        ctx.lineWidth = r.width || 1;
        ctx.setLineDash(r.dash || [1.5, 2.5]);
        ctx.moveTo(a.left, py);
        ctx.lineTo(a.right, py);
        ctx.stroke();
      });
      ctx.restore();
    },
    afterDraw(chart) {
      const ctx = chart.ctx, a = chart.chartArea;
      const cx = (a.left + a.right) / 2;
      ctx.save();
      ctx.fillStyle = '#000';
      ctx.textAlign = 'center';
      ctx.textBaseline = 'middle';
      ctx.font = 'bold 10.5px ' + F;
      ctx.fillText(titleText, cx, p.titleY);

      ctx.font = '10px ' + F;
      ctx.fillText('De Bilt', 318, a.top + 6);
      ctx.fillText(p.name, 318, a.top + 17);

      ctx.font = 'bold 11px ' + F;
      ctx.fillText('Dag', cx, a.bottom + 18);

      ctx.textAlign = 'left';
      ctx.fillStyle = '#0000ee';
      ctx.font = 'bold 7px ' + F;
      ctx.fillText('Bron: ECMWF/KNMI', 309, a.bottom + 19);

      ctx.save();
      ctx.translate(11, 87);
      ctx.rotate(-Math.PI / 2);
      ctx.textAlign = 'center';
      ctx.fillStyle = '#000';
      ctx.font = 'bold ' + (p.unit === 'Celsius' ? 11.5 : 11) + 'px ' + F;
      ctx.fillText(p.unit, 0, 0);
      ctx.restore();

      // legenda
      const ly = [a.top + 7, a.top + 13.5, a.top + 20];
      const styles = [
        {c: '#3a3aff', w: 1.5, d: [4, 2]},
        {c: '#ff1a1a', w: 1.5, d: []},
        {c: '#7d0c0c', w: 2.5, d: [2, 1.5]}
      ];
      styles.forEach((s, k) => {
        ctx.beginPath();
        ctx.strokeStyle = s.c;
        ctx.lineWidth = s.w;
        ctx.setLineDash(s.d);
        ctx.moveTo(a.left + 3, ly[k]);
        ctx.lineTo(a.left + 25, ly[k]);
        ctx.stroke();
      });
      ctx.setLineDash([]);
      ctx.fillStyle = '#000';
      ctx.textAlign = 'center';
      ctx.font = '7.5px ' + F;
      legendNames.forEach((n, k) => ctx.fillText(n, a.left + 48, ly[k]));
      ctx.restore();
    }
  };
}

function yAxis(p, left) {
  return {
    type: 'linear',
    position: left ? 'left' : 'right',
    min: p.min, max: p.max,
    ticks: {stepSize: p.step, color: '#000', font: {family: F, size: 8.5}, padding: left ? 3 : 1},
    grid: {drawOnChartArea: false, drawTicks: true, tickLength: left ? 4 : 3, color: '#000'},
    border: {display: true, color: left ? '#000' : '#404040', width: left ? 1 : 2},
    afterFit: s => { s.width = left ? p.leftW : p.rightW; }
  };
}

function drawPanel(id, p) {
  const el = document.getElementById(id);
  const bottomH = el.height - p.plotBottom;
  const datasets = [
    {label: 'Ens mn', data: p.mean, borderColor: '#7d0c0c', borderWidth: 3, borderDash: [2.5, 2.5]},
    {label: 'Oper', data: p.oper, borderColor: '#ff1a1a', borderWidth: 1.8},
    {label: 'Control', data: p.control, borderColor: '#2424ff', borderWidth: 1.5, borderDash: [5, 3]}
  ];
  p.members.forEach(m => datasets.push({data: m, borderColor: 'rgba(128,184,72,0.8)', borderWidth: 1.2}));

  new Chart(el, {
    type: 'line',
    data: {labels: xLabels, datasets: datasets},
    options: {
      responsive: false,
      animation: false,
      devicePixelRatio: 1,
      layout: {padding: {top: p.plotTop, left: 0, right: 0, bottom: 0}},
      elements: {point: {radius: 0}, line: {tension: 0, fill: false}},
      plugins: {legend: {display: false}, tooltip: {enabled: false}},
      scales: {
        x: {
          grid: {drawOnChartArea: false, tickLength: 3, color: '#a0a0a0'},
          border: {color: '#000', width: 1},
          ticks: {
            autoSkip: false, maxRotation: 0, minRotation: 0, padding: -3, color: '#000',
            font: c => (c.index % 4 === 2)
              ? {family: F, size: 5.5, weight: 'bold', lineHeight: 1}
              : {family: F, size: 8.5, lineHeight: 1.9}
          },
          afterFit: s => { s.height = bottomH; }
        },
        y: yAxis(p, true),
        y2: yAxis(p, false)
      }
    },
    plugins: [decoPlugin(p)]
  });
}

const leftCol = {leftW: 32, rightW: 31};
const rightCol = {leftW: 31, rightW: 32};

drawPanel('rain', Object.assign({}, leftCol, {
  control: rainControl, oper: rainOper, mean: rainMean, members: rainMembers,
  min: 0, max: 20, step: 5, unit: 'mm', name: 'Neerslag/6 uur',
  plotTop: 18, plotBottom: 156, titleY: 7.5,
  refLines: [{v: 15}]
}));
drawPanel('accum', Object.assign({}, rightCol, {
  control: accumControl, oper: accumOper, mean: accumMean, members: accumMembers,
  min: 0, max: 90, step: 10, unit: 'mm', name: 'Accum Neerslag',
  plotTop: 18, plotBottom: 156, titleY: 7.5,
  refLines: []
}));
drawPanel('wind', Object.assign({}, leftCol, {
  control: windControl, oper: windOper, mean: windMean, members: windMembers,
  min: 0, max: 20, step: 5, unit: 'm/s', name: '10m wind',
  plotTop: 18, plotBottom: 156, titleY: 9.7,
  refLines: [{v: 10.8}, {v: 13.9}, {v: 17.2}]
}));
drawPanel('gust', Object.assign({}, rightCol, {
  control: gustControl, oper: gustOper, mean: gustMean, members: gustMembers,
  min: 0, max: 30, step: 5, unit: 'm/s', name: 'Windstoten',
  plotTop: 18, plotBottom: 156, titleY: 9.7,
  refLines: [{v: 20}, {v: 25}, {v: 28.5, color: '#ff33ff', dash: [5, 3], width: 1.5}]
}));
drawPanel('temp', Object.assign({}, leftCol, {
  control: tempControl, oper: tempOper, mean: tempMean, members: tempMembers,
  min: -20, max: 20, step: 5, unit: 'Celsius', name: 'T2m',
  plotTop: 18, plotBottom: 157, titleY: 10,
  refLines: [{v: 0, dash: [], width: 3}]
}));
drawPanel('snow', Object.assign({}, rightCol, {
  control: snowControl, oper: snowOper, mean: snowMean, members: snowMembers,
  min: 0, max: 5, step: 1, unit: 'cm', name: 'Sneeuwval/6 uur',
  plotTop: 18, plotBottom: 157, titleY: 10,
  refLines: []
}));
</script>
</body>
</html>
